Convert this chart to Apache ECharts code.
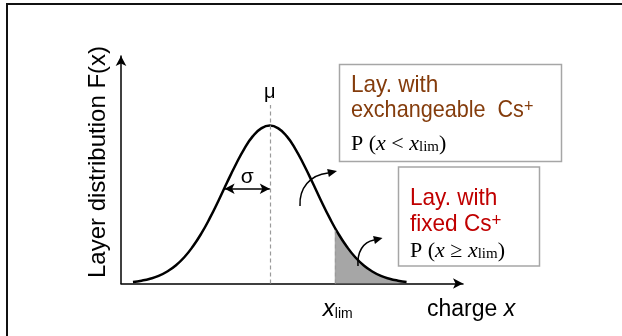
<!DOCTYPE html>
<html>
<head>
<meta charset="utf-8">
<script src="https://cdn.jsdelivr.net/npm/echarts@6/dist/echarts.min.js"></script>
<style>
  html, body { margin: 0; padding: 0; background: #fff; }
  #chart { width: 622px; height: 336px; }
</style>
</head>
<body>
<div id="chart"></div>
<script>
// Layer charge distribution F(x), sampled along the charge axis
const chargeX = [0.35, 0.6, 0.85, 1.1, 1.35, 1.6, 1.85, 2.1, 2.35, 2.6, 2.85, 3.1, 3.35, 3.6, 3.85, 4.1, 4.35,
                 4.6, 4.85, 5.1, 5.35, 5.6, 5.85, 6.1, 6.35, 6.6, 6.85, 7.1, 7.35, 7.6, 7.85, 8.1, 8.35];
const layerF  = [0.010, 0.018, 0.030, 0.048, 0.076, 0.114, 0.166, 0.234, 0.317, 0.415, 0.524, 0.639, 0.750, 0.851, 0.931, 0.982, 1.000,
                 0.982, 0.931, 0.851, 0.750, 0.639, 0.524, 0.415, 0.317, 0.234, 0.166, 0.114, 0.076, 0.048, 0.030, 0.018, 0.010];

// Tail of the distribution beyond the charge limit (layers with fixed Cs+)
const tailX = [6.25, 6.35, 6.6, 6.85, 7.1, 7.35, 7.6, 7.85, 8.1, 8.35];
const tailF = [0.355, 0.317, 0.234, 0.166, 0.114, 0.076, 0.048, 0.030, 0.018, 0.010];

// Characteristic values
const mu = 4.35;          // mean charge
const sigma = 1.32;       // standard deviation
const xLim = 6.25;        // charge limit
const xLimF = 0.355;      // F at the charge limit
const sigmaLevel = 0.6;   // height of the sigma marker
const muLineTop = 1.13;   // top of the mean guide line

// Axis ranges
const xRange = [0, 10];
const yRange = [0, 1.44];

const pairs = (xs, ys) => xs.map((v, i) => [v, ys[i]]);

const SANS = 'Liberation Sans';
const SERIF = 'Liberation Serif';
const BROWN = '#843C0C';
const RED = '#C00000';

const chart = echarts.init(document.getElementById('chart'), null, { renderer: 'canvas' });

const dashed = { color: '#9a9a9a', width: 1.2, type: [4, 3] };

chart.setOption({
  animation: false,
  backgroundColor: '#fff',
  grid: { left: 121, top: 56, width: 342, height: 227.5 },
  xAxis: {
    type: 'value', min: xRange[0], max: xRange[1],
    axisLine: { show: true, onZero: false, lineStyle: { color: '#000', width: 1.5 },
                symbol: ['none', 'arrow'], symbolSize: [8, 10] },
    axisTick: { show: false },
    splitLine: { show: false },
    axisLabel: {
      show: true,
      customValues: [xLim],
      margin: 12,
      formatter: () => '{x|x}{s|lim}',
      rich: {
        x: { fontFamily: SANS, fontSize: 24, fontStyle: 'italic', color: '#000',
             lineHeight: 26, verticalAlign: 'bottom', padding: [0, 0, 0, 6] },
        s: { fontFamily: SANS, fontSize: 14, color: '#000', lineHeight: 12, verticalAlign: 'bottom' }
      }
    }
  },
  yAxis: {
    type: 'value', min: yRange[0], max: yRange[1],
    axisLine: { show: true, onZero: false, lineStyle: { color: '#000', width: 1.5 },
                symbol: ['none', 'arrow'], symbolSize: [8, 10] },
    axisTick: { show: false },
    splitLine: { show: false },
    axisLabel: { show: false }
  },
  series: [
    {
      name: 'tail',
      type: 'line',
      data: pairs(tailX, tailF),
      smooth: true,
      symbol: 'none',
      lineStyle: { width: 0 },
      areaStyle: { color: '#A6A6A6', opacity: 1 },
      z: 1,
      silent: true
    },
    {
      name: 'F(x)',
      type: 'line',
      data: pairs(chargeX, layerF),
      smooth: true,
      symbol: 'none',
      lineStyle: { color: '#000', width: 2.5 },
      z: 4,
      markLine: {
        silent: true,
        symbol: ['none', 'none'],
        label: { show: false },
        data: [
          [ { coord: [mu, 0], lineStyle: dashed }, { coord: [mu, muLineTop] } ],
          [ { coord: [xLim, 0], lineStyle: dashed }, { coord: [xLim, xLimF] } ],
          [ { coord: [mu - sigma, sigmaLevel], symbol: 'arrow', symbolSize: [8, 10],
              lineStyle: { color: '#000', width: 1.5, type: 'solid' } },
            { coord: [mu, sigmaLevel], symbol: 'arrow', symbolSize: [8, 10] } ]
        ]
      }
    }
  ]
});

// Annotations placed from the data positions
const px = (x, y) => chart.convertToPixel({ gridIndex: 0 }, [x, y]);
const muTop = px(mu, muLineTop);
const sigMid = px(mu - sigma / 2, sigmaLevel);

function textEl(x, y, style, extra) {
  return Object.assign({
    type: 'text', x: x, y: y, z: 20,
    style: Object.assign({ fill: '#000', align: 'left', textAlign: 'left',
                           verticalAlign: 'middle', textVerticalAlign: 'middle' }, style)
  }, extra || {});
}

function curvedArrow(p0, c1, c2, p1, tip) {
  const dx = tip[0] - p1[0], dy = tip[1] - p1[1];
  const len = Math.hypot(dx, dy);
  const nx = -dy / len * 4, ny = dx / len * 4;
  return [
    { type: 'bezierCurve', z: 15,
      shape: { x1: p0[0], y1: p0[1], cpx1: c1[0], cpy1: c1[1], cpx2: c2[0], cpy2: c2[1], x2: p1[0], y2: p1[1] },
      style: { stroke: '#000', lineWidth: 1.5, fill: null } },
    { type: 'polygon', z: 15,
      shape: { points: [tip, [p1[0] + nx, p1[1] + ny], [p1[0] - nx, p1[1] - ny]] },
      style: { fill: '#000' } }
  ];
}

const formulaRich = {
  r: { fontFamily: SERIF, fontSize: 22, fill: '#000', lineHeight: 25, verticalAlign: 'bottom' },
  i: { fontFamily: SERIF, fontSize: 22, fontStyle: 'italic', fill: '#000', lineHeight: 25, verticalAlign: 'bottom' },
  l: { fontFamily: SERIF, fontSize: 15, fill: '#000', lineHeight: 13, verticalAlign: 'bottom' }
};

function csRich(color) {
  return {
    a: { fontFamily: SANS, fontSize: 24, fill: color, lineHeight: 28, verticalAlign: 'top' },
    s: { fontFamily: SANS, fontSize: 18, fill: color, lineHeight: 22, verticalAlign: 'top' }
  };
}

const graphics = [
  // outer frame
  { type: 'rect', z: 30, shape: { x: 7, y: 4, width: 700, height: 400 },
    style: { fill: null, stroke: '#111', lineWidth: 2 } },

  // axis titles
  textEl(98, 162, { text: 'Layer distribution F(x)', fontFamily: SANS, fontSize: 24,
                    align: 'center', textAlign: 'center' }, { rotation: Math.PI / 2 }),
  textEl(427, 310, {
    text: '{a|charge }{b|x}',
    rich: {
      a: { fontFamily: SANS, fontSize: 23, fill: '#000' },
      b: { fontFamily: SANS, fontSize: 23, fontStyle: 'italic', fill: '#000' }
    }
  }),

  // mean and sigma labels
  textEl(muTop[0], muTop[1] - 12, { text: 'μ', fontFamily: SANS, fontSize: 20,
                                     align: 'center', textAlign: 'center' }),
  textEl(sigMid[0], sigMid[1] - 12, { text: 'σ', fontFamily: SANS, fontSize: 21,
                                       align: 'center', textAlign: 'center' }),

  // box: exchangeable Cs+
  { type: 'rect', z: 12, shape: { x: 339.5, y: 64.5, width: 222, height: 97 },
    style: { fill: '#fff', stroke: '#A6A6A6', lineWidth: 1.5 } },
  textEl(351, 85, { text: 'Lay. with', fontFamily: SANS, fontSize: 24, fill: BROWN }, { scaleX: 0.94 }),
  textEl(351, 112.5, { text: '{a|exchangeable  Cs}{s|+}', rich: csRich(BROWN) }, { scaleX: 0.9 }),
  textEl(351, 142.5, { text: '{r|P (}{i|x}{r| < }{i|x}{l|lim}{r|)}', rich: formulaRich }),

  // box: fixed Cs+
  { type: 'rect', z: 12, shape: { x: 398.5, y: 167, width: 141, height: 99 },
    style: { fill: '#fff', stroke: '#A6A6A6', lineWidth: 1.5 } },
  textEl(410, 198, { text: 'Lay. with', fontFamily: SANS, fontSize: 24, fill: RED }, { scaleX: 0.94 }),
  textEl(410, 226, { text: '{a|fixed Cs}{s|+}', rich: csRich(RED) }, { scaleX: 0.94 }),
  textEl(410, 249.5, { text: '{r|P (}{i|x}{r| ≥ }{i|x}{l|lim}{r|)}', rich: formulaRich })
]
  // curved pointers from the areas towards the boxes
  .concat(curvedArrow([300, 206], [299, 188], [310, 175], [328, 173], [337, 171]))
  .concat(curvedArrow([358, 266], [357, 252], [363, 242], [374, 240], [382.5, 238]));

chart.setOption({ graphic: graphics });
</script>
</body>
</html>
